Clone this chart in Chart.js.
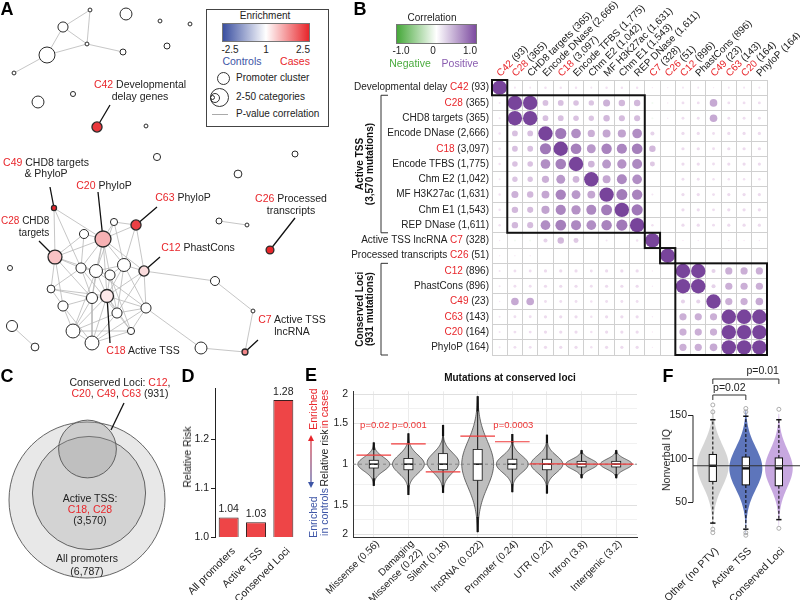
<!DOCTYPE html>
<html>
<head>
<meta charset="utf-8">
<script src="https://cdn.jsdelivr.net/npm/chart.js@4.4.1/dist/chart.umd.min.js"></script>
<style>
  body { margin: 0; background: #fff; }
  #fig { position: relative; width: 800px; height: 600px; overflow: hidden; }
  canvas { position: absolute; }
  .t { position: absolute; white-space: nowrap; font-family: "Liberation Sans", Arial, Helvetica, sans-serif;
       font-size: 11px; line-height: 1.15; color: #222; text-align: center; }
  .r { color: #e8262b; }
</style>
</head>
<body>
<div id="fig">
  <canvas id="cA" width="400" height="370" style="left:0;top:0"></canvas>
  <canvas id="cB" width="460" height="360" style="left:340px;top:0"></canvas>
  <canvas id="cC" width="180" height="200" style="left:0;top:400px"></canvas>
  <canvas id="cD" width="130" height="220" style="left:175px;top:380px"></canvas>
  <canvas id="cE" width="345" height="220" style="left:300px;top:380px"></canvas>
  <canvas id="cF" width="150" height="240" style="left:650px;top:360px"></canvas>
</div>
<script>
// ---------- data ----------

// A: promoter cluster network (layout coords, categories per node, enrichment)
const nodeX = [90,63,87,47,14,123,126,160,190,167,38,73,97,146,157,295,238,54,114,136,84,103,219,247,55,270,10,81,96,110,124,144,51,215,63,92,107,117,146,253,12,35,73,131,92,201,245];
const nodeY = [10,27,44,55,73,52,14,21,24,46,102,94,127,126,157,154,174,208,222,225,234,239,221,225,257,250,268,268,271,275,265,271,289,281,306,298,296,313,308,311,326,347,331,331,343,348,352];
const nodeCats = [3,20,3,50,3,7,28,3,3,7,28,5,20,3,10,7,12,5,10,20,16,50,7,3,38,12,5,20,33,20,33,20,12,16,20,24,33,20,20,3,24,12,38,10,38,28,7];
const nodeEnr = [0,0,0,0,0,0,0,0,0,0, 0,0,2.3,0,0,0,0,2.5,0,2.2, 0,0.9,0,0,0.7,2.5,0,0,0,0, 0,0.4,0,0,0,0,0.25,0,0,0, 0,0,0,0,0,0,1.4];
const edges = [[0,1],[0,2],[1,2],[1,3],[2,3],[2,5],[3,4],[22,23],[40,41],[31,33],[33,39],[39,46],[45,46],[38,45],
  [17,24],[17,21],[17,27],[18,19],[18,21],[18,30],[19,21],[19,30],[19,31],[20,21],[20,24],[20,27],[21,24],[21,27],
  [21,28],[21,29],[21,30],[21,35],[21,36],[21,31],[24,27],[24,28],[24,32],[24,35],[24,34],[27,28],[27,32],[27,35],
  [28,29],[28,30],[28,36],[28,35],[28,42],[28,38],[29,30],[29,36],[29,37],[29,43],[30,31],[30,36],[30,38],[30,37],
  [31,36],[31,38],[32,34],[32,35],[32,36],[34,35],[34,42],[34,44],[35,36],[35,42],[35,44],[36,37],[36,38],[36,42],
  [36,44],[36,43],[37,38],[37,43],[37,44],[37,42],[38,43],[38,44],[42,44],[42,43],[43,44],[27,37],[18,28],[31,37]];

// B: correlation between categories (lower triangle)
const bNames = ['Developmental delay','','CHD8 targets','Encode DNase','','Encode TFBS','Chm E2','MF H3K27ac','Chm E1','REP DNase','Active TSS lncRNA','Processed transcripts','','PhastCons','','','','PhyloP'];
const bClusters = ['C42','C28','','','C18','','','','','','C7','C26','C12','','C49','C63','C20',''];
const bCounts = ['93','365','365','2,666','3,097','1,775','1,042','1,631','1,543','1,611','328','51','896','896','23','143','164','164'];
const corrLower = [
  [1],
  [.02, 1],
  [.02, 1, 1],
  [.03, .16, .16, 1],
  [.03, .16, .16, .6, 1],
  [.03, .15, .15, .45, .55, 1],
  [.02, .14, .14, .25, .38, .22, 1],
  [.03, .24, .2, .3, .52, .38, .3, 1],
  [.03, .2, .18, .32, .5, .42, .48, .58, 1],
  [.03, .2, .18, .45, .55, .48, .45, .52, .6, 1],
  [.01, -.02, -.02, .08, .2, .12, 0, .02, 0, .03, 1],
  [.01, .01, .01, 0, 0, 0, 0, 0, 0, 0, 0, 1],
  [.02, .04, .04, .05, .05, .05, .04, .05, .05, .05, .01, 0, 1],
  [.02, .04, .04, .05, .05, .05, .04, .05, .05, .05, .01, 0, 1, 1],
  [.01, .28, .28, .04, .04, .04, .03, .04, .04, .04, 0, 0, .08, .08, 1],
  [.02, .04, .04, .05, .05, .05, .03, .05, .05, .05, .01, 0, .25, .25, .25, 1],
  [.02, .04, .04, .05, .05, .05, .03, .05, .05, .05, .01, 0, .25, .25, .25, 1, 1],
  [.02, .04, .04, .05, .05, .05, .03, .05, .05, .05, .01, 0, .25, .25, .28, 1, 1, 1]
];
const bGroups = [[0,0],[1,9],[10,10],[11,11],[12,17]];

// C: nested promoter sets
const vennNames = ['All promoters','Active TSS','Conserved Loci'];
const vennCounts = [6787, 3570, 931];

// D: relative risk
const dCats = ['All promoters','Active TSS','Conserved Loci'];
const dRR = [1.04, 1.03, 1.28];
const dTicks = [1.0, 1.1, 1.2];

// E: mutations at conserved loci (log2 relative risk)
const eLabels = ['Missense (0.56)', ['Damaging','Missense (0.22)'], 'Silent (0.18)', 'lncRNA (0.022)', 'Promoter (0.24)', 'UTR (0.22)', 'Intron (3.8)', 'Intergenic (3.2)'];
const eMu  = [0, 0, 0.02, 0, 0, 0, 0, 0];
const eSd  = [0.1, 0.13, 0.14, 0.33, 0.12, 0.12, 0.07, 0.07];
const eLo  = [-0.31, -0.44, -0.41, -0.97, -0.4, -0.42, -0.2, -0.2];
const eHi  = [0.31, 0.44, 0.56, 0.97, 0.43, 0.42, 0.2, 0.2];
const eQ1  = [-0.055, -0.08, -0.08, -0.23, -0.07, -0.08, -0.04, -0.04];
const eMed = [0, 0, 0, 0, 0, 0, 0, 0];
const eQ3  = [0.055, 0.08, 0.15, 0.21, 0.07, 0.07, 0.04, 0.04];
const eWlo = [-0.2, -0.3, -0.3, -0.75, -0.28, -0.3, -0.14, -0.14];
const eWhi = [0.2, 0.3, 0.4, 0.75, 0.3, 0.3, 0.14, 0.14];
const eObs = [0.13, 0.29, -0.11, 0.40, 0.32, 0.005, 0.0, 0.0];
const eP   = ['p=0.02', 'p=0.001', '', '', 'p=0.0003', '', '', ''];
const eTickRR = [0.5, 1 / 1.5, 1, 1.5, 2];

// F: nonverbal IQ
const fGroups = ['Other (no PTV)', 'Active TSS', 'Conserved Loci'];
const fMu  = [92, 89, 89];
const fSd  = [24, 24, 22];
const fLo  = [18, 13, 22];
const fHi  = [158, 156, 152];
const fQ1  = [74, 70, 69];
const fMed = [92, 89, 89];
const fQ3  = [105, 102, 101];
const fWlo = [26, 19, 30];
const fWhi = [145, 149, 145];
const fOutliers = [[162, 154, 19, 15], [158, 154, 15, 12], [157, 20]];
const fRefIQ = 92;
const fTicks = [50, 100, 150];
const fTests = [['p=0.02', 0, 1], ['p=0.01', 0, 2]];

// ---------- setup ----------
const FONT = '"Liberation Sans", Arial, Helvetica, sans-serif';
const RED = '#e8262b', BLUE = '#3d55a6';
Chart.defaults.font.family = FONT;
Chart.defaults.font.size = 10;
Chart.defaults.color = '#222';
Chart.defaults.animation = false;
Chart.defaults.responsive = false;
Chart.defaults.events = [];
Chart.defaults.plugins.legend.display = false;
Chart.defaults.plugins.tooltip.enabled = false;

const fig = document.getElementById('fig');
function addText(x, y, html, o = {}) {
  const d = document.createElement('div');
  d.className = 't';
  d.innerHTML = html;
  const ax = o.ax ?? 0.5, ay = o.ay ?? 0.5;
  Object.assign(d.style, {
    left: x + 'px', top: y + 'px',
    fontSize: (o.size || 10.5) + 'px',
    fontWeight: o.bold ? 'bold' : 'normal',
    color: o.color || '#222',
    lineHeight: o.lh ? o.lh + 'px' : '1.15',
    textAlign: o.align || 'center',
    transformOrigin: `${ax * 100}% ${ay * 100}%`,
    transform: `translate(${-ax * 100}%, ${-ay * 100}%) rotate(${o.rot || 0}deg)`
  });
  fig.appendChild(d);
  return d;
}
function addBox(x, y, w, h, css) {
  const d = document.createElement('div');
  d.style.cssText = `position:absolute;left:${x}px;top:${y}px;width:${w}px;height:${h}px;box-sizing:border-box;` + css;
  fig.appendChild(d);
}
const red = s => `<span class="r">${s}</span>`;

function mix(c1, c2, t) {
  return `rgb(${c1.map((v, i) => Math.round(v + (c2[i] - v) * t)).join(',')})`;
}
function enrColor(v) {
  const t = Math.max(-1, Math.min(1, v / 2.5));
  return t >= 0 ? mix([255,255,255], [232,38,43], t) : mix([255,255,255], [61,85,166], -t);
}
function corrColor(v) {
  const t = Math.pow(Math.min(1, Math.abs(v)), 0.7);
  return v >= 0 ? mix([253,240,250], [120,68,155], t) : mix([255,255,255], [74,171,62], t);
}
function line(ctx, x1, y1, x2, y2) {
  ctx.beginPath(); ctx.moveTo(x1, y1); ctx.lineTo(x2, y2); ctx.stroke();
}
function drawParts(ctx, parts, x, y, align) {
  const w = parts.reduce((s, p) => s + ctx.measureText(p[0]).width, 0);
  let cx = align === 'right' ? x - w : x;
  ctx.textAlign = 'left';
  parts.forEach(([t, c]) => { ctx.fillStyle = c; ctx.fillText(t, cx, y); cx += ctx.measureText(t).width; });
}
// violin outline from summary stats, drawn through the chart scales
function violin(ctx, xs, ys, cx, half, lo, hi, mu, sd) {
  const n = 60, right = [], left = [];
  for (let k = 0; k <= n; k++) {
    const v = lo + (hi - lo) * k / n;
    const w = half * Math.exp(-0.5 * ((v - mu) / sd) ** 2);
    const py = ys.getPixelForValue(v);
    right.push([xs.getPixelForValue(cx + w), py]);
    left.push([xs.getPixelForValue(cx - w), py]);
  }
  ctx.beginPath();
  right.forEach(([px, py], k) => k ? ctx.lineTo(px, py) : ctx.moveTo(px, py));
  left.reverse().forEach(([px, py]) => ctx.lineTo(px, py));
  ctx.closePath();
}

// ---------- A: network ----------
const pt = i => ({ x: nodeX[i], y: nodeY[i] });
const edgePts = [];
edges.forEach(([a, b]) => edgePts.push(pt(a), pt(b), { x: nodeX[b], y: null }));
const leaders = [[110,105,12],[50,187,17],[98,192,21],[157,207,19],[295,218,25],[39,241,24],[160,257,31],[110,343,36],[258,340,46]];
const leaderPts = [];
leaders.forEach(([lx, ly, n]) => leaderPts.push({ x: lx, y: ly }, pt(n), { x: nodeX[n], y: null }));

new Chart(document.getElementById('cA'), {
  type: 'scatter',
  data: { datasets: [
    { data: nodeX.map((_, i) => pt(i)), order: 0, clip: false,
      pointRadius: c => 1.13 * Math.sqrt(nodeCats[c.dataIndex]),
      pointBackgroundColor: c => enrColor(nodeEnr[c.dataIndex]),
      pointBorderColor: '#2a2a2a',
      pointBorderWidth: c => nodeEnr[c.dataIndex] > 0 ? 1.3 : 1 },
    { type: 'line', data: leaderPts, borderColor: '#111', borderWidth: 1.3, pointRadius: 0, order: 1 },
    { type: 'line', data: edgePts, borderColor: '#b8b8b8', borderWidth: 0.8, pointRadius: 0, order: 2 }
  ]},
  options: {
    layout: { padding: 0, autoPadding: false },
    scales: {
      x: { type: 'linear', min: 0, max: 400, display: false },
      y: { type: 'linear', min: 0, max: 370, reverse: true, display: false }
    }
  }
});

// ---------- B: correlation matrix ----------
const keys = bCounts.map((_, i) => 'k' + i);
const corr = corrLower.map((row, i) => keys.map((_, j) => j <= i ? corrLower[i][j] : corrLower[j][i]));
const bubbles = [];
corr.forEach((row, i) => row.forEach((v, j) => {
  if (Math.abs(v) > 0.005) bubbles.push({ x: keys[j], y: keys[i], r: 7.2 * Math.sqrt(Math.abs(v)), v });
}));
function bParts(i, row) {
  const parts = [], name = bNames[i], cl = bClusters[i];
  if (row) {
    if (name) parts.push([name + (cl ? ' ' : ''), '#222']);
    if (cl) parts.push([cl, RED]);
  } else {
    parts.push(cl ? [cl, RED] : [name, '#222']);
  }
  parts.push([' (' + bCounts[i] + ')', '#222']);
  return parts;
}
const bSideGroups = [[1, 9, 'Active TSS', '(3,570 mutations)'], [12, 17, 'Conserved Loci', '(931 mutations)']];
const matrixDecor = {
  id: 'matrixDecor',
  afterDatasetsDraw(chart) {
    const { ctx, chartArea: ca, scales: { x, y } } = chart;
    const cw = (ca.right - ca.left) / keys.length, ch = (ca.bottom - ca.top) / keys.length;
    ctx.save();
    ctx.strokeStyle = '#111'; ctx.lineWidth = 2;
    bGroups.forEach(([a, b]) => {
      const x1 = x.getPixelForValue(a) - cw / 2, x2 = x.getPixelForValue(b) + cw / 2;
      const y1 = y.getPixelForValue(a) - ch / 2, y2 = y.getPixelForValue(b) + ch / 2;
      ctx.strokeRect(x1, y1, x2 - x1, y2 - y1);
    });
    ctx.font = '10px ' + FONT; ctx.textBaseline = 'middle';
    keys.forEach((k, i) => {
      drawParts(ctx, bParts(i, true), ca.left - 3, y.getPixelForValue(i), 'right');
      ctx.save();
      ctx.translate(x.getPixelForValue(i) - 1, ca.top - 5);
      ctx.rotate(-Math.PI / 4);
      drawParts(ctx, bParts(i, false), 0, 0, 'left');
      ctx.restore();
    });
    // side brackets with group names
    ctx.strokeStyle = '#333'; ctx.lineWidth = 1;
    const bx = ca.left - 111;
    bSideGroups.forEach(([a, b, l1, l2]) => {
      const y1 = y.getPixelForValue(a) - ch / 2, y2 = y.getPixelForValue(b) + ch / 2;
      ctx.beginPath(); ctx.moveTo(bx + 7, y1); ctx.lineTo(bx, y1); ctx.lineTo(bx, y2); ctx.lineTo(bx + 7, y2); ctx.stroke();
      ctx.save();
      ctx.translate(bx - 21, (y1 + y2) / 2); ctx.rotate(-Math.PI / 2);
      ctx.font = 'bold 10px ' + FONT; ctx.fillStyle = '#111'; ctx.textAlign = 'center';
      ctx.fillText(l1, 0, 0); ctx.fillText(l2, 0, 10.5);
      ctx.restore();
    });
    ctx.restore();
  }
};
new Chart(document.getElementById('cB'), {
  type: 'bubble',
  data: { datasets: [{ data: bubbles, backgroundColor: c => corrColor(c.raw.v), borderWidth: 0, clip: false }] },
  options: {
    layout: { padding: { left: 152, right: 33, top: 80, bottom: 5 }, autoPadding: false },
    scales: {
      x: { type: 'category', labels: keys, offset: true, grid: { offset: true, color: '#d0d0d0', drawTicks: false },
           border: { display: false }, ticks: { display: false }, afterFit: s => { s.height = 0; } },
      y: { type: 'category', labels: keys, offset: true, grid: { offset: true, color: '#d0d0d0', drawTicks: false },
           border: { display: false }, ticks: { display: false }, afterFit: s => { s.width = 0; } }
    }
  },
  plugins: [matrixDecor]
});

// ---------- C: nested sets ----------
const vennCenters = [[87, 500], [89, 493], [87.5, 449]];
new Chart(document.getElementById('cC'), {
  type: 'bubble',
  data: { datasets: [
    { data: vennCounts.map((n, i) => ({ x: vennCenters[i][0], y: vennCenters[i][1], r: 78 * Math.sqrt(n / vennCounts[0]) })),
      backgroundColor: ['#e8e8e8', '#d3d3d3', 'rgba(150,150,150,0.32)'], borderColor: '#555', borderWidth: 0.9, clip: false, order: 0 },
    { type: 'line', data: [{ x: 124, y: 403 }, { x: 111, y: 430 }], borderColor: '#111', borderWidth: 1.3, pointRadius: 0, order: -1 }
  ]},
  options: {
    layout: { padding: 0, autoPadding: false },
    scales: {
      x: { type: 'linear', min: 0, max: 180, display: false },
      y: { type: 'linear', min: 400, max: 600, reverse: true, display: false }
    }
  }
});

// ---------- D: relative risk bars ----------
const barValues = {
  id: 'barValues',
  afterDatasetsDraw(chart) {
    const ctx = chart.ctx;
    ctx.save();
    ctx.font = '10.5px ' + FONT; ctx.fillStyle = '#222'; ctx.textAlign = 'center'; ctx.textBaseline = 'bottom';
    chart.getDatasetMeta(0).data.forEach((b, i) => ctx.fillText(dRR[i].toFixed(2), b.x, b.y - 3));
    ctx.restore();
  }
};
new Chart(document.getElementById('cD'), {
  type: 'bar',
  data: { labels: dCats, datasets: [{ data: dRR, backgroundColor: '#ee4547', borderColor: '#3a2020', borderWidth: 1,
          barPercentage: 0.73, categoryPercentage: 1 }] },
  options: {
    layout: { padding: { left: 0, right: 8, top: 5, bottom: 0 }, autoPadding: false },
    scales: {
      x: { grid: { display: false }, border: { display: false },
           ticks: { minRotation: 45, maxRotation: 45, autoSkip: false, padding: 0, labelOffset: 5, font: { size: 10.5 } },
           afterFit: s => { s.height = 63; } },
      y: { min: 1.0, max: 1.304, border: { display: true, color: '#222' },
           grid: { drawOnChartArea: false, tickLength: 4, color: '#222' },
           ticks: { padding: 2, font: { size: 10.5 }, callback: v => v.toFixed(1) },
           afterBuildTicks: s => { s.ticks = dTicks.map(v => ({ value: v })); },
           afterFit: s => { s.width = 40; } }
    }
  },
  plugins: [barValues]
});

// ---------- E: violins ----------
const eMajor = eTickRR.map(Math.log2);
const eMinor = eMajor.slice(1).map((v, i) => (v + eMajor[i]) / 2);
const eYTicks = eMajor.concat(eMinor).sort((a, b) => a - b);
const isMajor = v => eMajor.some(m => Math.abs(m - v) < 1e-6);
function eTickLabel(v) {
  const i = eMajor.findIndex(m => Math.abs(m - v) < 1e-6);
  if (i < 0) return '';
  const rr = eTickRR[i] >= 1 ? eTickRR[i] : 1 / eTickRR[i];
  return String(+rr.toFixed(2));
}
const redSegs = [];
eObs.forEach((v, i) => redSegs.push({ x: i - 0.5, y: v }, { x: i + 0.5, y: v }, { x: i + 0.5, y: null }));
const eViolins = {
  id: 'eViolins',
  beforeDatasetsDraw(chart) {
    const { ctx, scales: { x, y } } = chart;
    ctx.save();
    eLabels.forEach((_, i) => {
      violin(ctx, x, y, i, 0.46, eLo[i], eHi[i], eMu[i], eSd[i]);
      ctx.fillStyle = '#bebebe'; ctx.fill();
      ctx.strokeStyle = '#4a4a4a'; ctx.lineWidth = 0.8; ctx.stroke();
      const px = x.getPixelForValue(i);
      ctx.strokeStyle = '#111'; ctx.lineWidth = 1;
      line(ctx, px, y.getPixelForValue(eQ3[i]), px, y.getPixelForValue(eWhi[i]));
      line(ctx, px, y.getPixelForValue(eQ1[i]), px, y.getPixelForValue(eWlo[i]));
      ctx.lineWidth = 2.2;
      line(ctx, px, y.getPixelForValue(eWhi[i]), px, y.getPixelForValue(eHi[i]));
      line(ctx, px, y.getPixelForValue(eWlo[i]), px, y.getPixelForValue(eLo[i]));
      const bw = x.getPixelForValue(i + 0.13) - px;
      const top = y.getPixelForValue(eQ3[i]), bot = y.getPixelForValue(eQ1[i]);
      ctx.fillStyle = '#fff'; ctx.fillRect(px - bw, top, 2 * bw, bot - top);
      ctx.lineWidth = 0.8; ctx.strokeRect(px - bw, top, 2 * bw, bot - top);
      ctx.lineWidth = 1.6;
      const my = y.getPixelForValue(eMed[i]);
      line(ctx, px - bw, my, px + bw, my);
    });
    ctx.restore();
  },
  afterDraw(chart) {
    // red/blue double arrow next to the y title
    const ctx = chart.ctx, ax = 11, y1 = 55, y2 = 108;
    ctx.save();
    const g = ctx.createLinearGradient(0, y1, 0, y2);
    g.addColorStop(0, RED); g.addColorStop(1, BLUE);
    ctx.strokeStyle = g; ctx.lineWidth = 1.2;
    line(ctx, ax, y1 + 4, ax, y2 - 4);
    ctx.fillStyle = RED;
    ctx.beginPath(); ctx.moveTo(ax, y1); ctx.lineTo(ax - 3, y1 + 6); ctx.lineTo(ax + 3, y1 + 6); ctx.closePath(); ctx.fill();
    ctx.fillStyle = BLUE;
    ctx.beginPath(); ctx.moveTo(ax, y2); ctx.lineTo(ax - 3, y2 - 6); ctx.lineTo(ax + 3, y2 - 6); ctx.closePath(); ctx.fill();
    ctx.restore();
  }
};
const eChart = new Chart(document.getElementById('cE'), {
  type: 'scatter',
  data: { datasets: [
    { type: 'line', data: redSegs, borderColor: '#f03c3c', borderWidth: 1.2, pointRadius: 0, order: 0 },
    { type: 'line', data: [{ x: -0.6, y: 0 }, { x: 7.6, y: 0 }], borderColor: '#777', borderWidth: 0.8, borderDash: [3, 3], pointRadius: 0, order: 1 }
  ]},
  options: {
    layout: { padding: { left: 0, right: 8, top: 7, bottom: 0 }, autoPadding: false },
    scales: {
      x: { type: 'linear', min: -0.6, max: 7.6, grid: { color: '#ebebeb', drawTicks: false }, border: { color: '#333' },
           ticks: { minRotation: 45, maxRotation: 45, autoSkip: false, padding: 1, labelOffset: 4, font: { size: 10 }, callback: v => eLabels[v] },
           afterBuildTicks: s => { s.ticks = eLabels.map((_, i) => ({ value: i })); },
           afterFit: s => { s.height = 63; } },
      y: { type: 'linear', min: -1.04, max: 1.04, border: { color: '#333' },
           grid: { drawTicks: false, color: c => (c.tick && isMajor(c.tick.value)) ? '#e0e0e0' : '#f1f1f1' },
           ticks: { padding: 5, font: { size: 10.5 }, callback: v => eTickLabel(v) },
           afterBuildTicks: s => { s.ticks = eYTicks.map(v => ({ value: v })); },
           afterFit: s => { s.width = 53; } }
    }
  },
  plugins: [eViolins]
});

// ---------- F: nonverbal IQ ----------
const fCloud = ['rgba(185,185,185,0.6)', 'rgba(48,78,168,0.78)', 'rgba(165,115,205,0.62)'];
const fHalf = [0.48, 0.5, 0.42];
const fOutPts = [];
fOutliers.forEach((vals, i) => vals.forEach(v => fOutPts.push({ x: i, y: v })));
const fDecor = {
  id: 'fDecor',
  beforeDatasetsDraw(chart) {
    const { ctx, chartArea: ca, scales: { x, y } } = chart;
    ctx.save();
    fGroups.forEach((_, i) => {
      violin(ctx, x, y, i, fHalf[i], fLo[i], fHi[i], fMu[i], fSd[i]);
      ctx.fillStyle = fCloud[i]; ctx.fill();
      const px = x.getPixelForValue(i), bw = x.getPixelForValue(i + 0.11) - px, cw = x.getPixelForValue(i + 0.08) - px;
      ctx.strokeStyle = '#111'; ctx.lineWidth = 1.1; ctx.setLineDash([3, 2]);
      line(ctx, px, y.getPixelForValue(fQ3[i]), px, y.getPixelForValue(fWhi[i]));
      line(ctx, px, y.getPixelForValue(fQ1[i]), px, y.getPixelForValue(fWlo[i]));
      ctx.setLineDash([]); ctx.lineWidth = 1.5;
      line(ctx, px - cw, y.getPixelForValue(fWhi[i]), px + cw, y.getPixelForValue(fWhi[i]));
      line(ctx, px - cw, y.getPixelForValue(fWlo[i]), px + cw, y.getPixelForValue(fWlo[i]));
      const top = y.getPixelForValue(fQ3[i]), bot = y.getPixelForValue(fQ1[i]);
      ctx.fillStyle = '#fff'; ctx.fillRect(px - bw, top, 2 * bw, bot - top);
      ctx.lineWidth = 1; ctx.strokeRect(px - bw, top, 2 * bw, bot - top);
      ctx.lineWidth = 2.4;
      const my = y.getPixelForValue(fMed[i]);
      line(ctx, px - bw, my, px + bw, my);
    });
    ctx.strokeStyle = '#222'; ctx.lineWidth = 1;
    line(ctx, ca.left, y.getPixelForValue(fTicks[0]), ca.left, y.getPixelForValue(fTicks[fTicks.length - 1]));
    ctx.restore();
  },
  afterDraw(chart) {
    const { ctx, chartArea: ca, scales: { x } } = chart;
    ctx.save();
    ctx.strokeStyle = '#333'; ctx.lineWidth = 1;
    ctx.font = '10.5px ' + FONT; ctx.fillStyle = '#222'; ctx.textBaseline = 'middle';
    fTests.forEach(([label, a, b], k) => {
      const by = ca.top - 3 - k * 16, x1 = x.getPixelForValue(a), x2 = x.getPixelForValue(b);
      ctx.beginPath(); ctx.moveTo(x1, by + 5); ctx.lineTo(x1, by); ctx.lineTo(x2, by); ctx.lineTo(x2, by + 5); ctx.stroke();
      if (k === 0) { ctx.textAlign = 'center'; ctx.fillText(label, (x1 + x2) / 2, by - 7); }
      else { ctx.textAlign = 'right'; ctx.fillText(label, x2, by - 8); }
    });
    ctx.restore();
  }
};
new Chart(document.getElementById('cF'), {
  type: 'scatter',
  data: { datasets: [
    { type: 'line', data: [{ x: -0.6, y: fRefIQ }, { x: 2.64, y: fRefIQ }], borderColor: '#333', borderWidth: 1, pointRadius: 0, order: 1 },
    { data: fOutPts, pointRadius: 2, pointBackgroundColor: 'rgba(0,0,0,0)', pointBorderColor: '#9a9a9a', pointBorderWidth: 0.8, order: 0, clip: false }
  ]},
  options: {
    layout: { padding: { left: 0, right: 0, top: 38, bottom: 0 }, autoPadding: false },
    scales: {
      x: { type: 'linear', min: -0.6, max: 2.64, grid: { display: false }, border: { display: false },
           ticks: { minRotation: 45, maxRotation: 45, autoSkip: false, padding: 0, labelOffset: 4, font: { size: 10.5 }, callback: v => fGroups[v] },
           afterBuildTicks: s => { s.ticks = fGroups.map((_, i) => ({ value: i })); },
           afterFit: s => { s.height = 63; } },
      y: { type: 'linear', min: 10, max: 170, border: { display: false },
           grid: { drawOnChartArea: false, tickLength: 5, color: '#222' },
           ticks: { padding: 1, font: { size: 10.5 } },
           afterBuildTicks: s => { s.ticks = fTicks.map(v => ({ value: v })); },
           afterFit: s => { s.width = 43; } }
    }
  },
  plugins: [fDecor]
});

// ---------- text annotations ----------
[['A', 7, 9], ['B', 360, 9], ['C', 7, 376], ['D', 188, 376], ['E', 311, 375], ['F', 668, 376]]
  .forEach(([l, x, y]) => addText(x, y, l, { size: 18, bold: true, color: '#000', lh: 18 }));

// A labels
addText(140, 90, red('C42') + ' Developmental<br>delay genes', { lh: 12 });
addText(46, 168, red('C49') + ' CHD8 targets<br>&amp; PhyloP', { lh: 11 });
addText(104, 185, red('C20') + ' PhyloP');
addText(183, 197, red('C63') + ' PhyloP');
addText(291, 204, red('C26') + ' Processed<br>transcripts', { lh: 12 });
addText(1, 227, red('C28') + ' CHD8<br>targets', { size: 10, lh: 12, ax: 0, align: 'right' });
addText(198, 247, red('C12') + ' PhastCons');
addText(292, 325, red('C7') + ' Active TSS<br>lncRNA', { lh: 12 });
addText(143, 350, red('C18') + ' Active TSS');

// A legend
addBox(206, 9, 123, 118, 'border:1px solid #444;background:#fff');
addText(265, 16, 'Enrichment', { size: 10 });
addBox(222, 23, 88, 19, 'border:1px solid #777;background:linear-gradient(90deg,#3a4fa0,#ffffff 50%,#e8262b)');
addText(230, 50, '-2.5', { size: 10 });
addText(266, 50, '1', { size: 10 });
addText(303, 50, '2.5', { size: 10 });
addText(242, 61, 'Controls', { size: 10.5, color: BLUE });
addText(295, 61, 'Cases', { size: 10.5, color: RED });
addBox(216.5, 71.5, 13, 13, 'border:1px solid #333;border-radius:50%;background:#fff');
addText(236, 78, 'Promoter cluster', { size: 10, ax: 0 });
addBox(210, 88, 19, 19, 'border:1px solid #333;border-radius:50%');
addBox(210, 92.5, 10, 10, 'border:1px solid #333;border-radius:50%');
addBox(210, 95, 5, 5, 'border:1px solid #333;border-radius:50%');
addText(236, 97, '2-50 categories', { size: 10, ax: 0 });
addBox(212, 113.5, 16, 1, 'background:#aaa');
addText(236, 114, 'P-value correlation', { size: 10, ax: 0 });

// B legend
addText(432, 18, 'Correlation', { size: 10 });
addBox(396, 24, 81, 20, 'border:1px solid #777;background:linear-gradient(90deg,#46a83a,#ffffff 50%,#7d4ba0)');
addText(401, 51, '-1.0', { size: 10 });
addText(433, 51, '0', { size: 10 });
addText(470, 51, '1.0', { size: 10 });
addText(410, 63, 'Negative', { size: 10.5, color: '#4aab3e' });
addText(460, 63, 'Positive', { size: 10.5, color: '#8a5db0' });

// C labels
addText(120, 387.5, 'Conserved Loci: ' + red('C12') + ',<br>' + red('C20') + ', ' + red('C49') + ', ' + red('C63') + ' (931)', { size: 10.5, lh: 11.5 });
addText(90, 509, 'Active TSS:<br>' + red('C18, C28') + '<br>(3,570)', { size: 10.5, lh: 11 });
addText(87, 564, vennNames[0] + '<br>(6,787)', { size: 10.5, lh: 12.5 });

// D axis title
addText(187, 457, 'Relative Risk', { size: 10.5, rot: -90 });

// E title, axis title and p-values
addText(510, 378, 'Mutations at conserved loci', { size: 10, bold: true, color: '#111' });
addText(313, 409, 'Enriched', { size: 10.5, rot: -90, color: RED });
addText(324, 409, 'in cases', { size: 10.5, rot: -90, color: RED });
addText(324, 458, 'Relative risk', { size: 10.5, rot: -90 });
addText(313, 517, 'Enriched', { size: 10.5, rot: -90, color: BLUE });
addText(324, 512, 'in controls', { size: 10.5, rot: -90, color: BLUE });
eP.forEach((p, i) => {
  if (!p) return;
  addText(300 + eChart.scales.x.getPixelForValue(i) + 1, 380 + eChart.scales.y.getPixelForValue(0.56), p, { size: 9.5, color: '#ee3333' });
});

// F axis title
addText(666, 460, 'Nonverbal IQ', { size: 10.5, rot: -90 });
</script>
</body>
</html>
